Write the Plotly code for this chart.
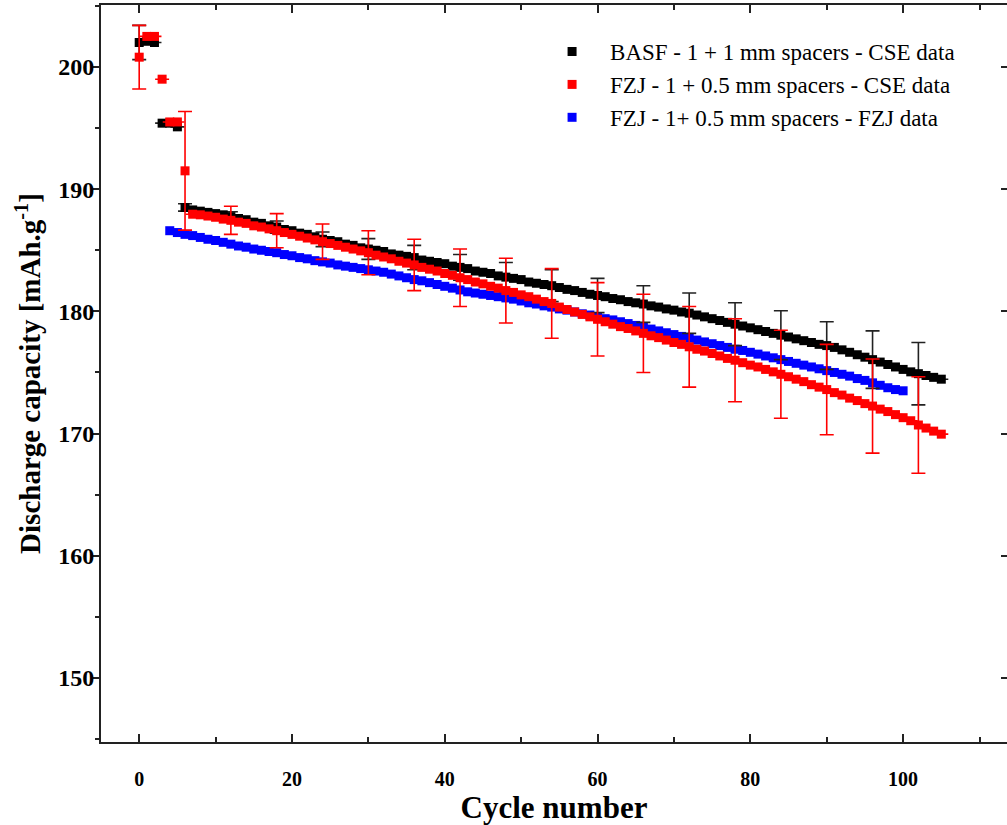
import plotly.graph_objects as go

# ---------------- data ----------------
cycles_basf = list(range(0, 106))
basf_cse = [
    202.0, 202.1, 202.0, 195.4, 195.4, 195.1, 188.5, 188.3, 188.2, 188.1,
    188.0, 187.9, 187.75, 187.6, 187.5, 187.3, 187.2, 187.0, 186.9, 186.7,
    186.6, 186.4, 186.3, 186.1, 185.9, 185.8, 185.7, 185.5, 185.4, 185.2,
    185.1, 185.0, 184.9, 184.7, 184.6, 184.5, 184.4, 184.2, 184.1, 184.0,
    183.9, 183.7, 183.6, 183.5, 183.3, 183.2, 183.1, 182.9, 182.8, 182.7,
    182.6, 182.4, 182.3, 182.2, 182.1, 181.95, 181.8, 181.7, 181.55, 181.4,
    181.3, 181.2, 181.05, 180.95, 180.8, 180.7, 180.6, 180.45, 180.35, 180.2,
    180.1, 179.95, 179.85, 179.7, 179.55, 179.4, 179.25, 179.1, 178.95, 178.8,
    178.65, 178.5, 178.35, 178.2, 178.05, 177.9, 177.75, 177.6, 177.45, 177.3,
    177.2, 177.05, 176.85, 176.65, 176.45, 176.25, 176.05, 175.85, 175.65, 175.45,
    175.25, 175.05, 174.9, 174.75, 174.6, 174.45,
]

cycles_fzj_cse = list(range(0, 106))
fzj_cse = [
    200.8, 202.5, 202.5, 199.0, 195.5, 195.5, 191.5, 187.95, 187.9, 187.8,
    187.7, 187.55, 187.45, 187.3, 187.2, 187.0, 186.9, 186.75, 186.6, 186.45,
    186.3, 186.15, 186.0, 185.85, 185.7, 185.55, 185.4, 185.25, 185.1, 184.95,
    184.8, 184.6, 184.45, 184.3, 184.1, 183.95, 183.8, 183.6, 183.45, 183.3,
    183.1, 182.95, 182.75, 182.6, 182.4, 182.25, 182.05, 181.9, 181.7, 181.55,
    181.35, 181.2, 181.0, 180.8, 180.65, 180.35, 180.15, 179.95, 179.75, 179.55,
    179.35, 179.15, 178.95, 178.75, 178.6, 178.4, 178.2, 178.0, 177.85, 177.65,
    177.45, 177.3, 177.1, 176.9, 176.75, 176.55, 176.35, 176.15, 176.0, 175.8,
    175.6, 175.45, 175.25, 175.05, 174.85, 174.65, 174.45, 174.25, 174.0, 173.8,
    173.6, 173.35, 173.15, 172.9, 172.7, 172.45, 172.25, 172.0, 171.8, 171.55,
    171.3, 171.05, 170.7, 170.45, 170.2, 169.95,
]

cycles_fzj_fzj = list(range(4, 101))
fzj_fzj = [
    186.6, 186.45, 186.3, 186.2, 186.05, 185.9, 185.8, 185.65, 185.5, 185.35,
    185.25, 185.1, 185.0, 184.9, 184.8, 184.65, 184.55, 184.4, 184.3, 184.15,
    184.05, 183.95, 183.8, 183.7, 183.6, 183.5, 183.4, 183.3, 183.2, 183.05,
    182.9, 182.75, 182.6, 182.5, 182.35, 182.2, 182.05, 181.9, 181.75, 181.6,
    181.5, 181.4, 181.3, 181.2, 181.1, 181.0, 180.85, 180.7, 180.6, 180.45,
    180.35, 180.2, 180.1, 179.95, 179.8, 179.7, 179.55, 179.4, 179.3, 179.15,
    179.0, 178.85, 178.7, 178.55, 178.4, 178.25, 178.1, 177.95, 177.8, 177.65,
    177.5, 177.35, 177.2, 177.05, 176.9, 176.8, 176.65, 176.5, 176.35, 176.2,
    176.05, 175.9, 175.75, 175.6, 175.45, 175.3, 175.15, 175.0, 174.85, 174.7,
    174.5, 174.35, 174.15, 173.95, 173.75, 173.6, 173.5,
]

# error bars (every 6th cycle)
err_cycles = [0, 6, 12, 18, 24, 30, 36, 42, 48, 54, 60, 66, 72, 78, 84, 90, 96, 102]
basf_err = [1.4, 0.3, 0.4, 0.5, 0.6, 0.85, 1.0, 1.05, 1.2, 1.3, 1.4, 1.5, 1.65, 1.75, 2.0, 1.95, 2.35, 2.55]
fzj_cse_err = [2.6, 4.85, 1.15, 1.4, 1.45, 1.8, 2.1, 2.35, 2.65, 2.85, 3.0, 3.2, 3.3, 3.4, 3.6, 3.7, 3.85, 3.95]

labels = [
    "BASF - 1 + 1 mm spacers - CSE data",
    "FZJ - 1 + 0.5 mm spacers - CSE data",
    "FZJ - 1+ 0.5 mm spacers - FZJ data",
]
colors = ["#000000", "#ff0000", "#0000ff"]

x_ticks = [0, 20, 40, 60, 80, 100]
y_ticks = [150, 160, 170, 180, 190, 200]


def err_array(cycles, ecycles, evals):
    lookup = dict(zip(ecycles, evals))
    return [lookup.get(c, None) for c in cycles]


FONT = "Liberation Serif"

fig = go.Figure()

fig.add_trace(go.Scatter(
    x=cycles_fzj_fzj, y=fzj_fzj, mode="markers", name=labels[2],
    marker=dict(symbol="square", size=9, color=colors[2]),
    legendrank=3,
))
fig.add_trace(go.Scatter(
    x=cycles_basf, y=basf_cse, mode="markers", name=labels[0],
    marker=dict(symbol="square", size=9, color=colors[0]),
    error_y=dict(type="data", array=err_array(cycles_basf, err_cycles, basf_err),
                 color="#222222", thickness=1.6, width=7),
    legendrank=1,
))
fig.add_trace(go.Scatter(
    x=cycles_fzj_cse, y=fzj_cse, mode="markers", name=labels[1],
    marker=dict(symbol="square", size=9, color=colors[1]),
    error_y=dict(type="data", array=err_array(cycles_fzj_cse, err_cycles, fzj_cse_err),
                 color=colors[1], thickness=1.6, width=7),
    legendrank=2,
))
# right-side axis carrier (ticks only)
fig.add_trace(go.Scatter(x=[None], y=[None], yaxis="y2", showlegend=False, hoverinfo="skip"))

fig.update_layout(
    width=1007, height=825,
    margin=dict(l=101, r=0, t=5, b=83),
    paper_bgcolor="white", plot_bgcolor="white",
    font=dict(family=FONT, color="black"),
    showlegend=True,
    legend=dict(
        x=0.478, y=0.966, xanchor="left", yanchor="top",
        font=dict(family=FONT, size=23, color="black"),
        bgcolor="rgba(0,0,0,0)", itemwidth=66,
        traceorder="normal",
    ),
    xaxis=dict(
        range=[-5.0, 113.6], tickvals=x_ticks, ticks="inside", ticklen=8, tickwidth=1.5,
        tickcolor="#222", showline=True, linecolor="#222", linewidth=2, mirror="ticks",
        showgrid=False, zeroline=False, automargin=False,
        minor=dict(dtick=10, tick0=0, ticks="inside", ticklen=5, tickwidth=1.5, tickcolor="#222"),
        tickfont=dict(family=FONT, size=20, color="black", weight="bold"),
        ticklabelstandoff=18,
        title=dict(text="Cycle number", font=dict(family=FONT, size=31, color="black", weight="bold"),
                   standoff=0),
    ),
    yaxis=dict(
        range=[144.76, 205.07], tickvals=y_ticks, ticks="outside", ticklen=6, tickwidth=1.5,
        tickcolor="#222", showline=True, linecolor="#222", linewidth=2, mirror=True,
        showgrid=False, zeroline=False, automargin=False,
        minor=dict(dtick=5, tick0=0, ticks="outside", ticklen=4, tickwidth=1.5, tickcolor="#222"),
        tickfont=dict(family=FONT, size=24, color="black", weight="bold"),
        ticklabelstandoff=-6,
        title=dict(text="Discharge capacity [mAh.g<sup>-1</sup>]",
                   font=dict(family=FONT, size=29, color="black", weight="bold"), standoff=9),
    ),
    yaxis2=dict(
        range=[144.76, 205.07], overlaying="y", side="right", tickvals=y_ticks,
        ticks="inside", ticklen=6, tickwidth=1.5, tickcolor="#222", showticklabels=False,
        showline=False, showgrid=False, zeroline=False, automargin=False,
    ),
)

fig.write_html("out.html", config={"displayModeBar": False},
               post_script="document.body.style.margin='0px';")
